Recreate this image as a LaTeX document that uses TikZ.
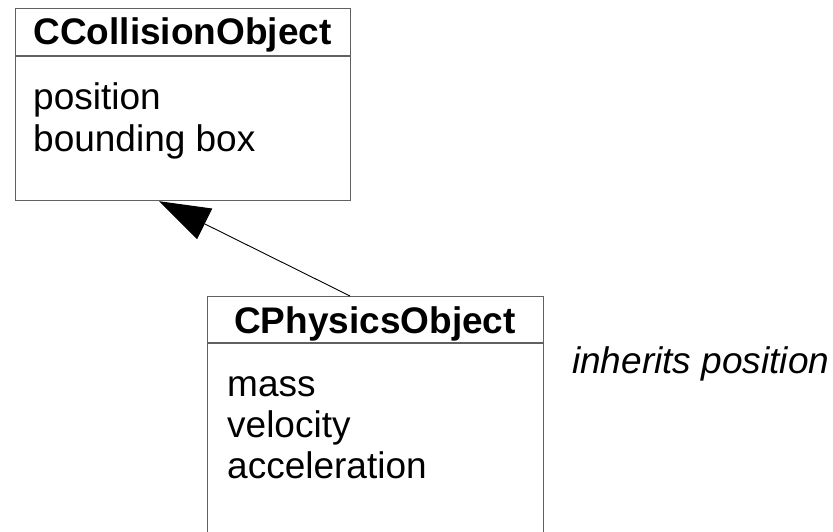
\documentclass[tikz,border=0pt]{standalone}
\usepackage{fontspec}
\setmainfont{Liberation Sans}
\usetikzlibrary{arrows.meta,calc}

\tikzset{
  classbox/.style={draw=black!62, line width=1.2pt, rectangle, inner sep=0pt, anchor=north west},
  divider/.style={draw=black!62, line width=1.2pt},
  classname/.style={font=\fontsize{37}{42}\selectfont\bfseries, inner sep=0pt, anchor=base},
  attr/.style={font=\fontsize{37}{42}\selectfont, inner sep=0pt, anchor=base west},
  note/.style={font=\fontsize{37}{42}\selectfont\itshape, inner sep=0pt, anchor=base west},
  inherit/.style={draw=black, line width=0.9pt, -{Triangle[length=51pt,width=34pt]}}
}

\begin{document}
\begin{tikzpicture}[x=1pt, y=-1pt]
  \useasboundingbox (0,0) rectangle (833,532);
  \clip (0,0) rectangle (833,532);

  % base class
  \node[classbox, minimum width=335pt, minimum height=192pt] (coll) at (15,8) {};
  \draw[divider] ($(coll.north west)+(0,48)$) -- ($(coll.north east)+(0,48)$);
  \node[classname] (colltitle) at (182.5,45) {CCollisionObject};
  \node[attr] (pos) at (33,110) {position};
  \node[attr] (bbox) at (33,152) {bounding box};

  % derived class
  \node[classbox, minimum width=336pt, minimum height=250pt] (phys) at (207,296) {};
  \draw[divider] ($(phys.north west)+(0,47)$) -- ($(phys.north east)+(0,47)$);
  \node[classname] (phystitle) at (375,333) {CPhysicsObject};
  \node[attr] (mass) at (227,396) {mass};
  \node[attr] (vel) at (227,437) {velocity};
  \node[attr] (acc) at (227,478) {acceleration};

  % note
  \node[note] (inh) at (572,373) {inherits position};

  % generalisation arrow
  \coordinate (tail) at ($(phys.north west)+(143,0)$);
  \coordinate (tip) at ($(coll.south west)+(144,0)$);
  \draw[inherit] (tail) -- (tip);
\end{tikzpicture}
\end{document}
